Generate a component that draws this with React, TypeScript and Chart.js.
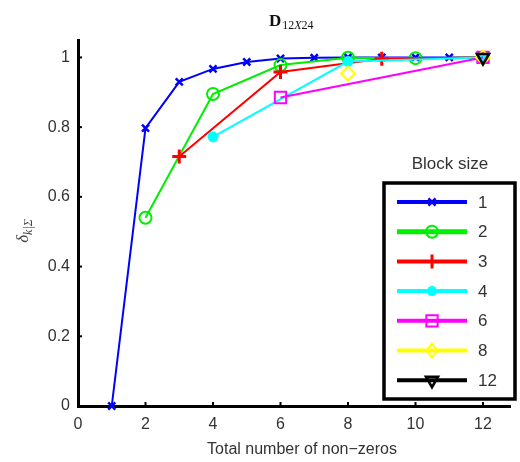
import React, { useEffect, useRef } from 'react';
import { Chart, registerables } from 'chart.js';
Chart.register(...registerables);

const xTicks = [0, 2, 4, 6, 8, 10, 12];
const yTicks = [0, 0.2, 0.4, 0.6, 0.8, 1];
const blockSizes = ['1', '2', '3', '4', '6', '8', '12'];

const x1 = [1, 2, 3, 4, 5, 6, 7, 8, 9, 10, 11, 12];
const y1 = [0, 0.797, 0.93, 0.967, 0.987, 0.997, 0.999, 1, 1, 1, 1, 1];
const x2 = [2, 4, 6, 8, 10, 12];
const y2 = [0.54, 0.895, 0.978, 0.999, 0.998, 1];
const x3 = [3, 6, 9, 12];
const y3 = [0.716, 0.958, 0.996, 1];
const x4 = [4, 8, 12];
const y4 = [0.772, 0.988, 1];
const x6 = [6, 12];
const y6 = [0.885, 1];
const x8 = [8, 12];
const y8 = [0.954, 1];
const x12 = [12];
const y12 = [1];

const colors = ['#0000ff', '#00ee00', '#ff0000', '#00ffff', '#ff00ff', '#ffff00', '#000000'];
const styles: any[] = [
  { pointStyle: 'crossRot', radius: 5, bw: 2.5, fill: false, rot: 0, line: true },
  { pointStyle: 'circle', radius: 6, bw: 2, fill: false, rot: 0, line: true },
  { pointStyle: 'cross', radius: 7, bw: 3, fill: false, rot: 0, line: true },
  { pointStyle: 'circle', radius: 5, bw: 1, fill: true, rot: 0, line: true },
  { pointStyle: 'rect', radius: 8, bw: 2, fill: false, rot: 0, line: true },
  { pointStyle: 'rectRot', radius: 7, bw: 2, fill: false, rot: 0, line: false },
  { pointStyle: 'triangle', radius: 7, bw: 2.5, fill: false, rot: 180, line: true },
];

const seriesX = [x1, x2, x3, x4, x6, x8, x12];
const seriesY = [y1, y2, y3, y4, y6, y8, y12];

const FONT = '"Liberation Sans", Arial, sans-serif';

function drawMarker(ctx: CanvasRenderingContext2D, i: number, x: number, y: number) {
  const s = styles[i];
  const c = colors[i];
  ctx.save();
  ctx.strokeStyle = c;
  ctx.fillStyle = c;
  ctx.lineWidth = s.bw;
  ctx.beginPath();
  const r = s.radius;
  switch (s.pointStyle) {
    case 'crossRot': {
      const d = r * Math.SQRT1_2;
      ctx.moveTo(x - d, y - d); ctx.lineTo(x + d, y + d);
      ctx.moveTo(x + d, y - d); ctx.lineTo(x - d, y + d);
      ctx.stroke();
      break;
    }
    case 'cross':
      ctx.moveTo(x - r, y); ctx.lineTo(x + r, y);
      ctx.moveTo(x, y - r); ctx.lineTo(x, y + r);
      ctx.stroke();
      break;
    case 'circle':
      ctx.arc(x, y, r, 0, Math.PI * 2);
      if (s.fill) ctx.fill(); else ctx.stroke();
      break;
    case 'rect': {
      const d = r * Math.SQRT1_2;
      ctx.rect(x - d, y - d, 2 * d, 2 * d);
      ctx.stroke();
      break;
    }
    case 'rectRot':
      ctx.moveTo(x, y - r); ctx.lineTo(x + r * 0.75, y); ctx.lineTo(x, y + r); ctx.lineTo(x - r * 0.75, y); ctx.closePath();
      ctx.stroke();
      break;
    case 'triangle': {
      const h = r;
      ctx.moveTo(x - h * 0.87, y - h * 0.5); ctx.lineTo(x + h * 0.87, y - h * 0.5); ctx.lineTo(x, y + h); ctx.closePath();
      ctx.stroke();
      break;
    }
  }
  ctx.restore();
}

const decorPlugin = {
  id: 'decor',
  afterDraw(chart: any) {
    const ctx: CanvasRenderingContext2D = chart.ctx;
    const xs = chart.scales.x;
    const ys = chart.scales.y;
    const a = chart.chartArea;
    ctx.save();
    ctx.strokeStyle = '#000';
    ctx.lineWidth = 2;
    xTicks.forEach((v) => {
      if (v === 0) return;
      const px = xs.getPixelForValue(v);
      ctx.beginPath(); ctx.moveTo(px, a.bottom); ctx.lineTo(px, a.bottom - 4); ctx.stroke();
    });
    yTicks.forEach((v) => {
      if (v === 0) return;
      const py = ys.getPixelForValue(v);
      ctx.beginPath(); ctx.moveTo(a.left, py); ctx.lineTo(a.left + 4, py); ctx.stroke();
    });

    // title D_{12X24}
    ctx.fillStyle = '#111';
    ctx.textBaseline = 'alphabetic';
    ctx.textAlign = 'left';
    let tx = 269;
    const ty = 26;
    ctx.font = 'bold 17px "Liberation Serif", "Times New Roman", serif';
    ctx.fillText('D', tx, ty);
    tx += ctx.measureText('D').width + 1;
    const parts: [string, string][] = [['12', 'normal'], ['X', 'italic'], ['24', 'normal']];
    parts.forEach(([t, st]) => {
      ctx.font = `${st} 12px "Liberation Serif", "Times New Roman", serif`;
      ctx.fillText(t, tx, ty + 3);
      tx += ctx.measureText(t).width;
    });

    // x axis title
    ctx.fillStyle = '#333';
    ctx.font = `16px ${FONT}`;
    ctx.textAlign = 'center';
    ctx.textBaseline = 'middle';
    ctx.fillText('Total number of non\u2212zeros', 302, 450);

    // y axis title (rotated)
    ctx.save();
    ctx.translate(24, 231);
    ctx.rotate(-Math.PI / 2);
    ctx.textAlign = 'left';
    ctx.textBaseline = 'alphabetic';
    ctx.fillStyle = '#444';
    ctx.font = 'italic 17px "Liberation Serif", serif';
    const w1 = ctx.measureText('\u03b4').width;
    ctx.font = 'italic 12px "Liberation Serif", serif';
    const w2 = ctx.measureText('k|\u03a3').width;
    const start = -(w1 + w2) / 2;
    ctx.font = 'italic 17px "Liberation Serif", serif';
    ctx.fillText('\u03b4', start, 4);
    ctx.font = 'italic 12px "Liberation Serif", serif';
    ctx.fillText('k|\u03a3', start + w1, 8);
    ctx.restore();

    // legend
    ctx.font = `17px ${FONT}`;
    ctx.fillStyle = '#333';
    ctx.textAlign = 'center';
    ctx.textBaseline = 'middle';
    ctx.fillText('Block size', 450, 164);
    ctx.fillStyle = '#fff';
    ctx.fillRect(384, 183, 131, 216);
    ctx.strokeStyle = '#000';
    ctx.lineWidth = 3.5;
    ctx.strokeRect(384, 183, 131, 216);
    blockSizes.forEach((lab, i) => {
      const yy = 202 + i * 29.7;
      ctx.strokeStyle = colors[i];
      ctx.lineWidth = i === 1 ? 5 : 4;
      ctx.beginPath(); ctx.moveTo(397, yy); ctx.lineTo(467, yy); ctx.stroke();
      drawMarker(ctx, i, 432, yy);
      ctx.fillStyle = '#333';
      ctx.font = `17px ${FONT}`;
      ctx.textAlign = 'left';
      ctx.textBaseline = 'middle';
      ctx.fillText(lab, 478, yy + 1);
    });
    ctx.restore();
  },
};

export default function App() {
  const ref = useRef<HTMLCanvasElement>(null);
  useEffect(() => {
    document.body.style.margin = '0';
    const datasets = seriesX.map((xs, i) => {
      const s = styles[i];
      return {
        label: blockSizes[i],
        data: xs.map((x, j) => ({ x, y: seriesY[i][j] })),
        borderColor: colors[i],
        borderWidth: 2,
        showLine: s.line,
        pointStyle: s.pointStyle,
        pointRadius: s.radius,
        pointBorderWidth: s.bw,
        pointRotation: s.rot,
        pointBorderColor: colors[i],
        pointBackgroundColor: s.fill ? colors[i] : 'rgba(0,0,0,0)',
        fill: false,
        tension: 0,
        order: 7 - i,
        clip: false as any,
      };
    });
    const chart = new Chart(ref.current!, {
      type: 'line',
      data: { datasets },
      options: {
        responsive: false,
        animation: false,
        layout: { padding: { top: 40, right: 4, left: 0, bottom: 0 } },
        plugins: { legend: { display: false }, tooltip: { enabled: false }, title: { display: false } },
        scales: {
          x: {
            type: 'linear',
            min: 0,
            max: 12.8,
            grid: { display: false, drawTicks: false },
            border: { display: true, color: '#000', width: 3 },
            afterBuildTicks: (sc: any) => { sc.ticks = xTicks.map((v) => ({ value: v })); },
            afterFit: (sc: any) => { sc.height = 56; },
            ticks: {
              padding: 9,
              color: '#333',
              font: { family: FONT, size: 16 },
              callback: (v: any) => String(v),
              maxRotation: 0,
              autoSkip: false,
            },
          },
          y: {
            type: 'linear',
            min: 0,
            max: 1.05,
            grid: { display: false, drawTicks: false },
            border: { display: true, color: '#000', width: 3 },
            afterBuildTicks: (sc: any) => { sc.ticks = yTicks.map((v) => ({ value: v })); },
            afterFit: (sc: any) => { sc.width = 78; },
            ticks: {
              padding: 8,
              color: '#333',
              font: { family: FONT, size: 16 },
              callback: (v: any) => String(v),
              autoSkip: false,
            },
          },
        },
      },
      plugins: [decorPlugin],
    });
    return () => chart.destroy();
  }, []);
  return (
    <div style={{ position: 'absolute', left: 0, top: 0, width: 520, height: 462, background: '#fff' }}>
      <canvas ref={ref} width={520} height={462} style={{ width: 520, height: 462 }} />
    </div>
  );
}
